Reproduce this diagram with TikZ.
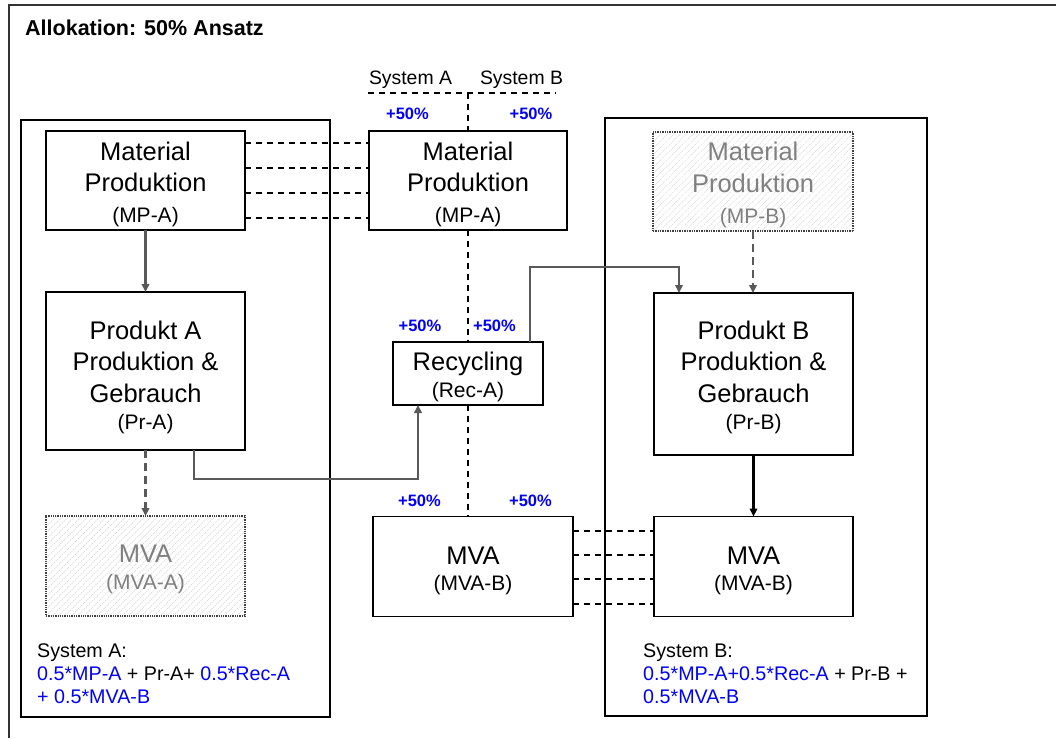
\documentclass[tikz,border=0pt]{standalone}
\usepackage{fontspec}
\setmainfont{Liberation Sans}
\usetikzlibrary{arrows.meta,patterns.meta,calc}
\definecolor{arrgray}{HTML}{595959}
\definecolor{txtgray}{HTML}{808080}
\definecolor{hatchc}{HTML}{D9D9D9}
\newcommand\BigT{\fontsize{25.5}{31.5}\selectfont}
\newcommand\SmT{\fontsize{21}{24}\selectfont}
\begin{document}
\begin{tikzpicture}[x=1pt,y=-1pt,
 box/.style={draw=black,line width=1.8pt,fill=white,inner sep=0pt,outer sep=0pt},
 ghost/.style={draw=black!75,densely dotted,line width=1.3pt,pattern={Lines[angle=45,distance=4.5pt,line width=0.7pt]},pattern color=hatchc,inner sep=0pt,outer sep=0pt},
 frame/.style={draw=black,line width=1.3pt},
 btxt/.style={align=center,inner sep=0pt,font=\BigT},
 gtxt/.style={btxt,text=txtgray},
 dline/.style={black,line width=1.5pt,dash pattern=on 6pt off 5pt},
 garrow/.style={draw=arrgray,line width=2.5pt,-{Triangle[length=8pt,width=7.5pt]}},
 gdash/.style={garrow,dash pattern=on 8pt off 5pt},
 barrow/.style={draw=black,line width=2.2pt,-{Triangle[length=8pt,width=7.5pt]}},
 pct/.style={text=blue,font=\fontsize{16.5}{18}\selectfont\bfseries,inner sep=0pt},
 ftxt/.style={anchor=base west,inner sep=0pt,font=\fontsize{19.7}{22}\selectfont},
 stxt/.style={anchor=base,inner sep=0pt,font=\fontsize{19.4}{22}\selectfont},
]
\useasboundingbox (0,0) rectangle (1056,738);
\fill[white] (0,0) rectangle (1056,738);
% outer frame
\draw[line width=1.6pt,draw=black!80] (1056,5) -- (9,5) -- (9,738);
\node[anchor=base west,inner sep=0pt,font=\fontsize{21.5}{24}\selectfont\bfseries] (title) at (25,36) {Allokation: 50\% Ansatz};

% system frames
\draw[frame] (21,120) rectangle (330,717);
\draw[frame] (605,118) rectangle (927,716);

% boxes
\node[box,minimum width=199,minimum height=99] (mpaL) at (145.5,180.5) {};
\node[box,minimum width=198,minimum height=99] (mpaC) at (468,180.5) {};
\node[ghost,minimum width=200,minimum height=99] (mpB) at (753,181.5) {};
\node[box,minimum width=199,minimum height=158] (prA) at (145.5,371) {};
\node[box,minimum width=199,minimum height=162] (prB) at (753.5,374) {};
\node[box,minimum width=150,minimum height=63] (rec) at (468,373.5) {};
\node[ghost,minimum width=199,minimum height=100] (mvaA) at (145.5,566) {};
\node[box,minimum width=200,minimum height=100] (mvaC) at (473,566.5) {};
\node[box,minimum width=199,minimum height=100] (mvaR) at (753.5,566.5) {};

% box texts
\node[btxt] (mpaLt) at ([yshift=-4]mpaL.center) {Material\\Produktion\\[-0.5pt]{\SmT (MP-A)}};
\node[btxt] (mpaCt) at ([yshift=-4]mpaC.center) {Material\\Produktion\\[-0.5pt]{\SmT (MP-A)}};
\node[gtxt] (mpBt) at ([yshift=-3.5]mpB.center) {Material\\Produktion\\[-0.5pt]{\SmT (MP-B)}};
\node[btxt] (prAt) at ([yshift=-6.5]prA.center) {Produkt A\\Produktion \&\\Gebrauch\\[-4pt]{\SmT (Pr-A)}};
\node[btxt] (prBt) at ([yshift=-3.5]prB.center) {Produkt B\\Produktion \&\\Gebrauch\\[-4pt]{\SmT (Pr-B)}};
\node[btxt] (rect) at ([yshift=-3]rec.center) {Recycling\\[-4.5pt]{\SmT (Rec-A)}};
\node[gtxt] (mvaAt) at ([yshift=-3.5]mvaA.center) {MVA\\[-5pt]{\SmT (MVA-A)}};
\node[btxt] (mvaCt) at ([yshift=-4]mvaC.center) {MVA\\[-5.5pt]{\SmT (MVA-B)}};
\node[btxt] (mvaRt) at ([yshift=-4]mvaR.center) {MVA\\[-5.5pt]{\SmT (MVA-B)}};

% system divider
\coordinate (hl) at (368,93);
\coordinate (hr) at (556,93);
\coordinate (top) at (468,93);
\draw[dline] (hl) -- (hr);
\draw[dline] (top) -- (mpaC.north);
\draw[dline] (mpaC.south) -- (rec.north);
\draw[dline] (rec.south) -- (rec.south |- mvaC.north);
\node[stxt] (sysA) at (410.5,85) {System A};
\node[stxt] (sysB) at (521.5,85) {System B};

% percentages
\node[pct] (p1) at (407.5,114) {+50\%};
\node[pct] (p2) at (531,114) {+50\%};
\node[pct] (p3) at (420,326) {+50\%};
\node[pct] (p4) at (494.5,326) {+50\%};
\node[pct] (p5) at (419.5,501) {+50\%};
\node[pct] (p6) at (530.5,501) {+50\%};

% dashed links
\foreach \s in {37.5,12.5,-12.5,-37.5}{
  \draw[dline] ([yshift=\s]mpaL.east) -- ([yshift=\s]mpaC.west);
}
\foreach \s in {35.5,11.5,-12.5,-37.5}{
  \draw[dline] ([yshift=\s]mvaC.east) -- ([yshift=\s]mvaR.west);
}

% arrows
\draw[garrow] (mpaL) -- (prA);
\draw[gdash] (prA) -- (mvaA);
\draw[garrow] ([xshift=48.5]prA.south) -- ++(0,29) -| ([xshift=-50]rec.south);
\draw[garrow] ([xshift=62]rec.north) -- ++(0,-75) -| ([xshift=-74.5]prB.north);
\draw[gdash] (mpB) -- (mpB |- prB.north);
\draw[barrow] (prB) -- (mvaR);

% formulas
\node[ftxt] (fA1) at (37,657) {System A:};
\node[ftxt] (fA2) at (37,680) {\textcolor{blue}{0.5*MP-A} + Pr-A+ \textcolor{blue}{0.5*Rec-A}};
\node[ftxt,text=blue] (fA3) at (37,703) {+ 0.5*MVA-B};
\node[ftxt] (fB1) at (643,657) {System B:};
\node[ftxt] (fB2) at (643,680) {\textcolor{blue}{0.5*MP-A+0.5*Rec-A} + Pr-B +};
\node[ftxt,text=blue] (fB3) at (643,703) {0.5*MVA-B};
\end{tikzpicture}
\end{document}
